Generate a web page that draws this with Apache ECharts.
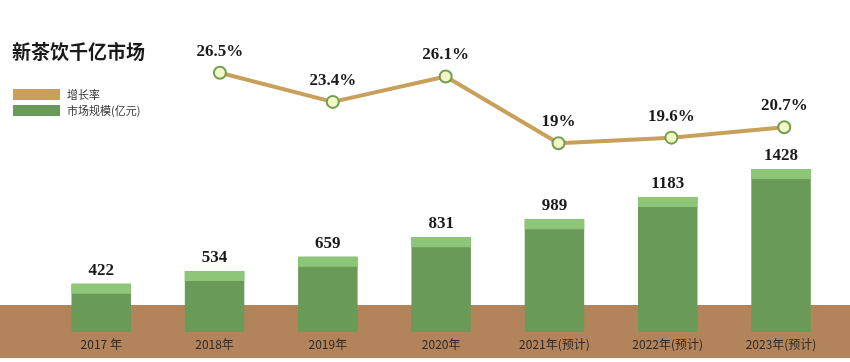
<!DOCTYPE html>
<html><head><meta charset="utf-8">
<script src="https://cdn.jsdelivr.net/npm/echarts@6/dist/echarts.min.js"></script>
<style>html,body{margin:0;padding:0;background:#fff}#c{width:850px;height:362px}</style>
</head><body><div id="c"></div>
<script>
const categories = ['2017 年','2018年','2019年','2020年','2021年(预计)','2022年(预计)','2023年(预计)'];
const marketSize = [422, 534, 659, 831, 989, 1183, 1428];
const growthRate = [null, 26.5, 23.4, 26.1, 19, 19.6, 20.7];

const chart = echarts.init(document.getElementById('c'));
const serif = '"Liberation Serif","DejaVu Serif",serif';
chart.setOption({
  animation: false,
  title: { text: '新茶饮千亿市场', left: 7, top: 37,
    textStyle: { fontFamily: '"Noto Sans CJK SC"', fontWeight: 'bold', fontSize: 19, color: '#1a1a1a' } },
  legend: {
    orient: 'vertical', left: 8, top: 84, itemWidth: 47, itemHeight: 11, itemGap: 5,
    textStyle: { fontFamily: '"Noto Sans CJK SC"', fontSize: 11, color: '#333', padding: [0, 0, 0, 2] },
    data: [
      { name: '增长率', icon: 'rect', itemStyle: { color: '#c9a05a', borderWidth: 0 } },
      { name: '市场规模(亿元)', icon: 'rect', itemStyle: { color: '#6a9a58', borderWidth: 0 } }
    ]
  },
  graphic: [{ type: 'rect', z: 0, shape: { x: 0, y: 305, width: 850, height: 53 }, style: { fill: '#b3835b' } }],
  grid: [
    { left: 44.6, right: 12.3, top: 20, bottom: 30 },
    { left: 50.6, right: 9.3, top: 20, bottom: 30 }
  ],
  xAxis: [
    { type: 'category', data: categories, gridIndex: 0,
      axisLine: { show: false }, axisTick: { show: false },
      axisLabel: { margin: 6, fontSize: 12, color: '#2a2a2a', fontFamily: '"Noto Sans CJK SC"' } },
    { type: 'category', data: categories, gridIndex: 1, show: false }
  ],
  yAxis: [
    { type: 'value', gridIndex: 0, min: 0, max: 2734, show: false, splitLine: { show: false } },
    { type: 'value', gridIndex: 1, min: -1.05, max: 32.1, show: false, splitLine: { show: false } }
  ],
  series: [
    {
      name: '市场规模(亿元)', type: 'custom', xAxisIndex: 0, yAxisIndex: 0, z: 3,
      itemStyle: { color: '#6a9a58' },
      data: marketSize.map((v, i) => [i, v]),
      renderItem: function (params, api) {
        const x = api.coord([api.value(0), api.value(1)]);
        const base = api.coord([api.value(0), 0]);
        const w = api.size([1, 0])[0] * 0.525;
        const left = x[0] - w / 2;
        return { type: 'group', children: [
          { type: 'rect', shape: { x: left, y: x[1], width: w, height: base[1] - x[1] }, style: { fill: '#6a9a58' } },
          { type: 'rect', shape: { x: left, y: x[1], width: w, height: 10 }, style: { fill: '#8dc678' } },
          { type: 'text', x: x[0], y: x[1] - 5, style: { text: String(api.value(1)), align: 'center', verticalAlign: 'bottom',
            font: 'bold 17px ' + serif, fill: '#1a1a1a' } }
        ] };
      },
      encode: { x: 0, y: 1 }
    },
    {
      name: '增长率', type: 'line', xAxisIndex: 1, yAxisIndex: 1, z: 5,
      data: growthRate,
      lineStyle: { color: '#c9a05a', width: 4 },
      itemStyle: { color: '#f3f6c8', borderColor: '#6f9f4c', borderWidth: 2 },
      symbol: 'circle', symbolSize: 12,
      label: { show: true, position: 'top', distance: 6, fontFamily: serif, fontWeight: 'bold', fontSize: 17, color: '#1a1a1a',
        formatter: p => p.value + '%' }
    }
  ]
});
</script></body></html>
